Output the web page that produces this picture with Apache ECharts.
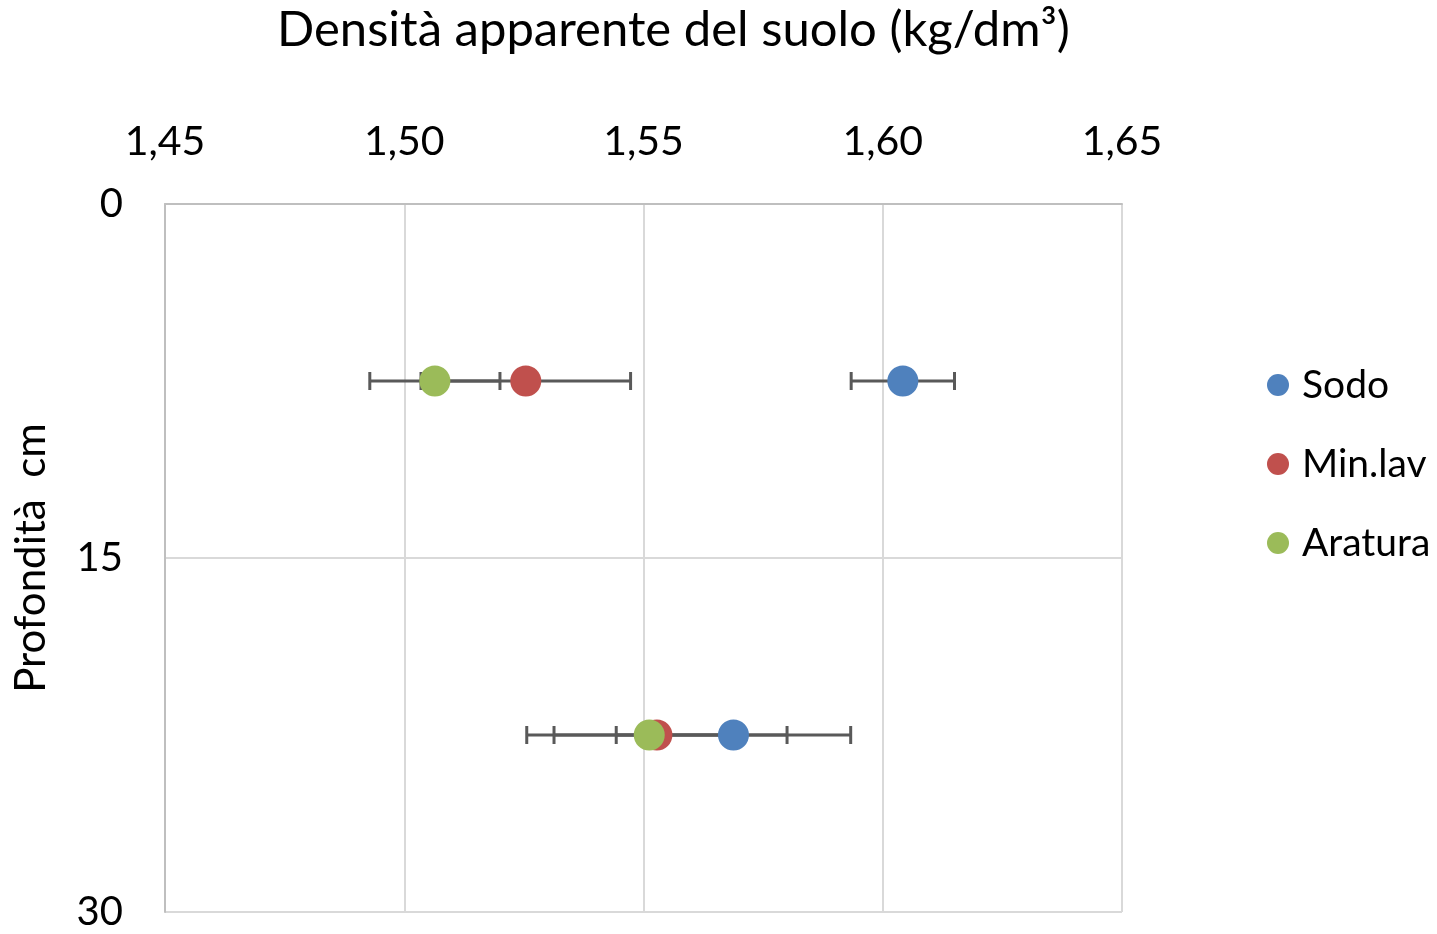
<!DOCTYPE html>
<html>
<head>
<meta charset="utf-8">
<script src="https://cdn.jsdelivr.net/npm/echarts@6/dist/echarts.min.js"></script>
<style>html,body{margin:0;padding:0;background:#fff;}#c{width:1437px;height:934px;}</style>
</head>
<body>
<div id="c"></div>
<script>
const seriesNames = ['Sodo', 'Min.lav', 'Aratura'];
const depths = [7.5, 22.5];
const sodo = [1.6042, 1.5688];
const sodoErr = [0.0108, 0.0245];
const minlav = [1.5254, 1.5528];
const minlavErr = [0.0219, 0.0272];
const aratura = [1.5064, 1.5512];
const araturaErr = [0.0136, 0.0199];
const xTicks = [1.45, 1.50, 1.55, 1.60, 1.65];
const yTicks = [0, 15, 30];
const colors = ['#4F81BD', '#C0504D', '#9BBB59'];

const FONT = 'Lato';
const values = [sodo, minlav, aratura];
const errs = [sodoErr, minlavErr, araturaErr];

const series = [];
values.forEach((vals, i) => {
  series.push({
    type: 'custom',
    name: seriesNames[i] + '_err',
    z: 2,
    silent: true,
    encode: { x: 0, y: 1 },
    data: vals.map((v, k) => [v, depths[k], errs[i][k]]),
    renderItem: function (params, api) {
      const x = api.value(0), y = api.value(1), e = api.value(2);
      const p1 = api.coord([x - e, y]);
      const p2 = api.coord([x + e, y]);
      const h = 9;
      const st = { stroke: '#595959', lineWidth: 3 };
      return {
        type: 'group',
        children: [
          { type: 'line', shape: { x1: p1[0], y1: p1[1], x2: p2[0], y2: p2[1] }, style: st },
          { type: 'line', shape: { x1: p1[0], y1: p1[1] - h, x2: p1[0], y2: p1[1] + h }, style: st },
          { type: 'line', shape: { x1: p2[0], y1: p2[1] - h, x2: p2[0], y2: p2[1] + h }, style: st }
        ]
      };
    }
  });
});
values.forEach((vals, i) => {
  series.push({
    type: 'scatter',
    name: seriesNames[i],
    z: 5,
    symbol: 'circle',
    symbolSize: 31,
    itemStyle: { color: colors[i], opacity: 1 },
    data: vals.map((v, k) => [v, depths[k]])
  });
});

const chart = echarts.init(document.getElementById('c'), null, { renderer: 'canvas' });
chart.setOption({
  animation: false,
  backgroundColor: '#ffffff',
  color: colors,
  title: {
    text: 'Densità apparente del suolo (kg/dm³)',
    left: 272,
    top: 1,
    textStyle: { fontFamily: FONT, fontSize: 49, fontWeight: 'normal', color: '#000' }
  },
  legend: {
    orient: 'vertical',
    left: 1262,
    top: 358,
    itemWidth: 22,
    itemHeight: 22,
    itemGap: 35,
    icon: 'circle',
    data: seriesNames,
    textStyle: { fontFamily: FONT, fontSize: 39, color: '#000', lineHeight: 44, padding: [0, 0, 0, 8] }
  },
  grid: { left: 165, top: 204, right: 315, bottom: 22, containLabel: false },
  xAxis: {
    type: 'value',
    position: 'top',
    min: 1.45,
    max: 1.65,
    interval: 0.05,
    axisLine: { show: true, lineStyle: { color: '#bfbfbf', width: 2 } },
    axisTick: { show: false },
    splitLine: { show: true, lineStyle: { color: '#d9d9d9', width: 2 } },
    axisLabel: {
      margin: 42,
      fontFamily: FONT, fontSize: 41, color: '#000',
      formatter: v => v.toFixed(2).replace('.', ',')
    }
  },
  yAxis: {
    type: 'value',
    inverse: true,
    min: 0,
    max: 30,
    interval: 15,
    name: 'Profondità  cm',
    nameLocation: 'middle',
    nameGap: 113,
    nameRotate: 90,
    nameTextStyle: { fontFamily: FONT, fontSize: 42, color: '#000' },
    axisLine: { show: true, lineStyle: { color: '#bfbfbf', width: 2 } },
    axisTick: { show: false },
    splitLine: { show: true, lineStyle: { color: '#d9d9d9', width: 2 } },
    axisLabel: { margin: 42, fontFamily: FONT, fontSize: 40, color: '#000' }
  },
  series: series
});
</script>
</body>
</html>
